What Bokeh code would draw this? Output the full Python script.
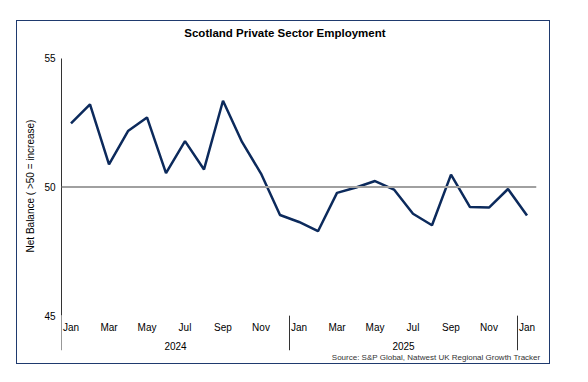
from bokeh.plotting import figure
from bokeh.models import FixedTicker, Range1d, Span, Title, ColumnDataSource, Spacer
from bokeh.layouts import column, row
from bokeh.core.properties import value
from bokeh.embed import file_html
from bokeh.resources import INLINE

# ---- data ----
months = ["Jan 2024", "Feb 2024", "Mar 2024", "Apr 2024", "May 2024", "Jun 2024",
          "Jul 2024", "Aug 2024", "Sep 2024", "Oct 2024", "Nov 2024", "Dec 2024",
          "Jan 2025", "Feb 2025", "Mar 2025", "Apr 2025", "May 2025", "Jun 2025",
          "Jul 2025", "Aug 2025", "Sep 2025", "Oct 2025", "Nov 2025", "Dec 2025",
          "Jan 2026"]
employment = [52.47, 53.21, 50.88, 52.17, 52.70, 50.54, 51.78, 50.68, 53.35, 51.75,
              50.52, 48.91, 48.64, 48.28, 49.77, 49.98, 50.23, 49.90, 48.96, 48.51,
              50.48, 49.22, 49.20, 49.92, 48.89]
month_tick_labels = ["Jan", "Mar", "May", "Jul", "Sep", "Nov",
                     "Jan", "Mar", "May", "Jul", "Sep", "Nov", "Jan"]
years = ["2024", "2025"]
y_ticks = [45, 50, 55]
threshold = 50
chart_title = "Scotland Private Sector Employment"

FONT = "Liberation Sans"
NAVY = "#0c2a5c"

n = len(months)
idx = list(range(n))
src = ColumnDataSource(dict(x=idx, y=employment, month=months))

Y_MIN, Y_MAX = 45, 55
# the frame is extended above and below the value axis to hold title and category labels
y_top = 56.428
y_bottom = 43.646
title_y = 55.98
title_x = 11.26
month_label_y = 44.54
year_label_y = 43.84

p = figure(width=534, height=344, output_backend="svg", toolbar_location=None,
           x_range=Range1d(-0.5, n - 0.5), y_range=Range1d(y_bottom, y_top),
           min_border_left=44, min_border_right=15, min_border_top=0, min_border_bottom=15)
p.styles = {"border": "1.5px solid #1f3a6e"}
p.outline_line_color = None
p.grid.visible = False
p.xaxis.visible = False

# title
p.text(x=[title_x], y=[title_y], text=[chart_title], text_font=value(FONT),
       text_font_size=value("11.5px"), text_font_style="bold", text_color="#000000",
       text_align="center", text_baseline="middle")

# y axis
ya = p.yaxis[0]
ya.ticker = FixedTicker(ticks=y_ticks)
ya.bounds = (Y_MIN, Y_MAX)
ya.major_tick_out = 0
ya.major_tick_in = 0
ya.minor_tick_out = 0
ya.minor_tick_in = 0
ya.axis_line_color = "#333333"
ya.major_label_text_font = FONT
ya.major_label_text_font_size = "10px"
ya.major_label_text_color = "#000000"
ya.major_label_standoff = 6
ya.axis_label = "Net Balance ( >50 = increase)"
ya.axis_label_text_font = FONT
ya.axis_label_text_font_size = "10px"
ya.axis_label_text_font_style = "normal"
ya.axis_label_text_color = "#000000"
ya.axis_label_standoff = 5

# month labels (every second month) and year group labels
month_positions = idx[::2]
p.text(x=month_positions, y=[month_label_y] * len(month_positions), text=month_tick_labels,
       text_font=value(FONT), text_font_size=value("10px"), text_color="#000000",
       text_align="center", text_baseline="middle")

year_starts = [i for i, m in enumerate(months) if m.startswith("Jan")]
year_centers = [(year_starts[k] + year_starts[k + 1] - 1) / 2 for k in range(len(years))]
p.text(x=year_centers, y=[year_label_y] * len(years), text=years,
       text_font=value(FONT), text_font_size=value("10px"), text_color="#000000",
       text_align="center", text_baseline="middle")

# year separators (the first one continues the y axis line)
sep_x = [s - 0.5 for s in year_starts]
p.segment(x0=sep_x, y0=[Y_MIN] * len(sep_x), x1=sep_x, y1=[y_bottom] * len(sep_x),
          line_color="#333333", line_width=1)

# source
src_title = Title(text="Source: S&P Global, Natwest UK Regional Growth Tracker",
                  align="right", offset=-4, text_font=FONT, text_font_size="8px",
                  text_font_style="normal", text_color="#333333", standoff=4,
                  vertical_align="top")
p.add_layout(src_title, "below")

# 50 line
p.add_layout(Span(location=threshold, dimension="width", line_color="#a0a0a0", line_width=2))

p.line("x", "y", source=src, line_color=NAVY, line_width=2.5)

layout = column(Spacer(height=20), row(Spacer(width=16), p))
open("out.html", "w").write(file_html(layout, INLINE))
